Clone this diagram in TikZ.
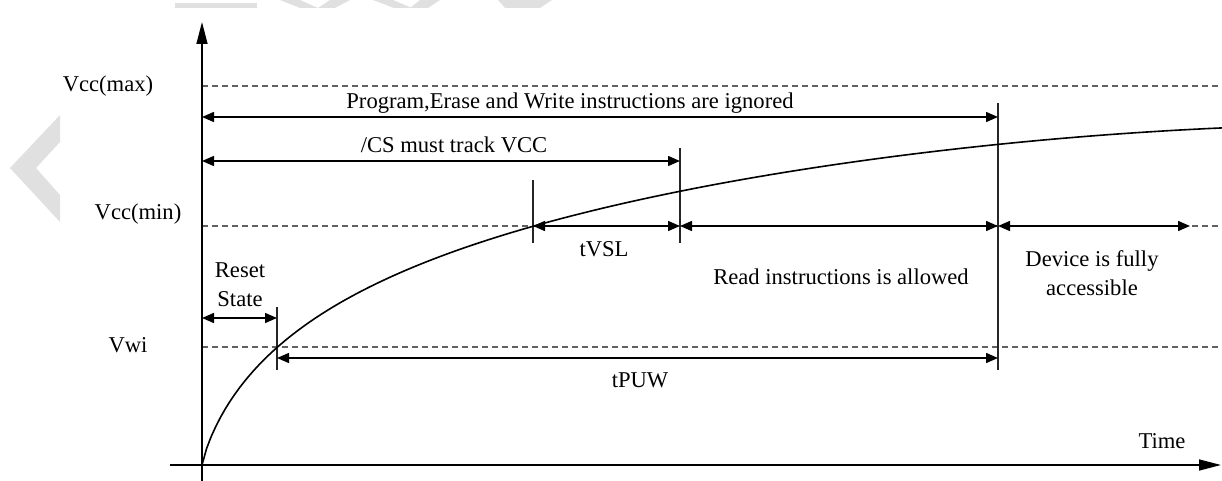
\documentclass[tikz,border=0pt]{standalone}
\usepackage{fontspec}
\setmainfont{Liberation Serif}
\usetikzlibrary{arrows.meta}
\begin{document}
\begin{tikzpicture}[x=0.5pt,y=-0.5pt,
  lbl/.style={font=\fontsize{11.3}{14.5}\selectfont, inner sep=0pt, align=center},
  axisline/.style={line width=0.75pt, -{Triangle[length=11pt,width=5.5pt]}},
  guide/.style={line width=0.85pt, draw=black!62, dash pattern=on 3pt off 2pt},
  marker/.style={line width=0.7pt, draw=black!85},
  dim/.style={line width=0.75pt, {Triangle[length=6pt,width=5pt]}-{Triangle[length=6pt,width=5pt]}},
  wm/.style={fill=black!12, draw=none},
  curve/.style={line width=0.8pt}
]
\useasboundingbox (0,0) rectangle (1222,481);
% watermark remnants
\fill[wm] (10,168) -- (60,115) -- (60,142) -- (36,168) -- (60,195) -- (60,222) -- cycle;
\fill[wm] (175,3) rectangle (257,8);
\fill[wm] (280,0) -- (300,0) -- (318,8) -- (300,8) -- cycle;
\fill[wm] (330,0) -- (350,0) -- (335,8) -- (318,8) -- cycle;
\fill[wm] (373,0) -- (393,0) -- (412,8) -- (394,8) -- cycle;
\fill[wm] (420,0) -- (440,0) -- (428,8) -- (410,8) -- cycle;
\fill[wm] (498,0) -- (552,0) -- (540,8) -- (505,8) -- cycle;

% key points
\coordinate (O) at (202,465);
\coordinate (Ytop) at (202,22);
\coordinate (Ybot) at (202,481);
\coordinate (Xl) at (170,465);
\coordinate (Xr) at (1221,465);
\coordinate (MaxL) at (202,86);  \coordinate (MaxR) at (1222,86);
\coordinate (MinL) at (202,226); \coordinate (MinR) at (1222,226);
\coordinate (WiL) at (202,347);  \coordinate (WiR) at (1222,347);

% guide lines
\draw[guide] (MaxL) -- (MaxR);
\draw[guide] (MinL) -- (MinR);
\draw[guide] (WiL) -- (WiR);

% axes
\draw[line width=0.75pt] (Ybot) -- (O);
\draw[axisline] (O) -- (Ytop);
\draw[axisline] (Xl) -- (Xr);

% markers
\coordinate (A1) at (277,307); \coordinate (A2) at (277,370);
\coordinate (B1) at (533,180); \coordinate (B2) at (533,243);
\coordinate (C1) at (680,148); \coordinate (C2) at (680,243);
\coordinate (D1) at (998,103); \coordinate (D2) at (998,370);
\draw[marker] (A1) -- (A2);
\draw[marker] (B1) -- (B2);
\draw[marker] (C1) -- (C2);
\draw[marker] (D1) -- (D2);

% curve
\draw[curve] (O) -- plot[domain=0.001:1020, samples=220, variable=\t]
  ({202+\t}, {465 - (133.5*ln(1+pow(\t/50,0.85)) - 15*pow(\t/1020,4))});

% dimension arrows
\coordinate (P1) at (202,117); \coordinate (P2) at (998,117);
\coordinate (S1) at (202,161); \coordinate (S2) at (680,161);
\coordinate (T1) at (533,226); \coordinate (T2) at (680,226);
\coordinate (R1) at (680,226); \coordinate (R2) at (998,226);
\coordinate (F1) at (998,226); \coordinate (F2) at (1190,226);
\coordinate (E1) at (202,318); \coordinate (E2) at (277,318);
\coordinate (W1) at (277,358); \coordinate (W2) at (998,358);
\draw[dim] (P1) -- (P2);
\draw[dim] (S1) -- (S2);
\draw[dim] (T1) -- (T2);
\draw[dim] (R1) -- (R2);
\draw[dim] (F1) -- (F2);
\draw[dim] (E1) -- (E2);
\draw[dim] (W1) -- (W2);

% labels
\node[lbl] (lmax) at (108,86) {Vcc(max)};
\node[lbl] (lmin) at (138,214) {Vcc(min)};
\node[lbl] (lwi) at (128,345) {Vwi};
\node[lbl] (lprog) at (570,103) {Program,Erase and Write instructions are ignored};
\node[lbl] (lcs) at (454,145) {/CS must track VCC};
\node[lbl] (ltvsl) at (604,249) {tVSL};
\node[lbl] (lread) at (841,277) {Read instructions is allowed};
\node[lbl] (ldev) at (1092,273) {Device is fully\\accessible};
\node[lbl] (lreset) at (240,285) {Reset\\State};
\node[lbl] (ltpuw) at (640,380) {tPUW};
\node[lbl] (ltime) at (1162,441) {Time};
\end{tikzpicture}
\end{document}
